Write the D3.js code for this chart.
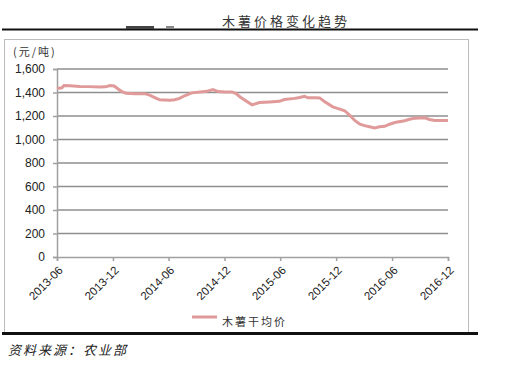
<!DOCTYPE html>
<html><head><meta charset="utf-8">
<script src="https://cdn.jsdelivr.net/npm/d3@7"></script>
<style>body{margin:0;background:#fff}svg{display:block}</style>
</head><body>
<script>
const title = "木薯价格变化趋势";
const unitLabel = "(元/吨)";
const seriesName = "木薯干均价";
const sourceText = "资料来源：农业部";
const xTickLabels = ["2013-06","2013-12","2014-06","2014-12","2015-06","2015-12","2016-06","2016-12"];
const yTicks = [0,200,400,600,800,1000,1200,1400,1600];
const dates = ["2013-06-01","2013-06-17","2013-06-24","2013-07-13","2013-08-15","2013-09-11","2013-10-20","2013-11-06","2013-11-22","2013-12-05","2013-12-18","2013-12-30","2014-01-13","2014-02-12","2014-03-15","2014-03-31","2014-04-17","2014-05-03","2014-06-05","2014-06-21","2014-07-07","2014-07-23","2014-08-16","2014-09-12","2014-10-04","2014-10-24","2014-11-10","2014-12-02","2014-12-25","2015-01-08","2015-01-21","2015-02-06","2015-03-01","2015-03-25","2015-04-27","2015-05-29","2015-06-15","2015-07-18","2015-08-04","2015-08-20","2015-08-30","2015-09-22","2015-10-08","2015-10-25","2015-11-20","2015-12-13","2015-12-29","2016-01-15","2016-02-01","2016-02-17","2016-03-03","2016-03-19","2016-04-05","2016-04-21","2016-05-08","2016-05-24","2016-06-10","2016-07-12","2016-07-28","2016-08-14","2016-08-31","2016-09-16","2016-10-02","2016-10-19","2016-12-01"];
const prices = [1435,1440,1460,1458,1452,1450,1446,1448,1460,1455,1430,1408,1393,1390,1390,1378,1357,1338,1335,1338,1350,1372,1397,1405,1410,1425,1408,1405,1405,1390,1362,1334,1295,1315,1320,1325,1340,1350,1358,1368,1355,1355,1354,1322,1278,1258,1245,1205,1160,1130,1118,1108,1098,1108,1112,1130,1145,1160,1172,1180,1183,1185,1170,1162,1162];

const W=520,H=365;
const svg=d3.select("body").append("svg").attr("width",W).attr("height",H);
const cjk='"Noto Sans CJK SC","Noto Sans",sans-serif';
const latin='"Liberation Sans",Arial,sans-serif';

// frame
svg.append("rect").attr("x",4.5).attr("y",39.5).attr("width",464).attr("height",294).attr("fill","none").attr("stroke","#bdbdbd").attr("stroke-width",1);
svg.append("line").attr("x1",2).attr("x2",478).attr("y1",29.5).attr("y2",29.5).attr("stroke","#111").attr("stroke-width",2);
svg.append("line").attr("x1",2).attr("x2",478).attr("y1",333.5).attr("y2",333.5).attr("stroke","#111").attr("stroke-width",3);
// small artifacts near title line
svg.append("rect").attr("x",126).attr("y",26).attr("width",28).attr("height",3).attr("fill","#444");
svg.append("rect").attr("x",166).attr("y",26).attr("width",8).attr("height",2).attr("fill","#888");

svg.append("text").attr("x",286).attr("y",26).attr("text-anchor","middle").attr("font-family",cjk).attr("font-size",13).attr("letter-spacing",3).attr("font-weight",400).attr("fill","#333").text(title);
svg.append("text").attr("x",13).attr("y",56).attr("font-family",cjk).attr("font-size",11).attr("letter-spacing",2).attr("fill","#333").text(unitLabel);

const parse=d3.timeParse("%Y-%m-%d");
const data=dates.map((d,i)=>({d:parse(d),v:prices[i]}));
const x=d3.scaleTime().domain([parse("2013-06-01"),parse("2016-12-01")]).range([57,448]);
const y=d3.scaleLinear().domain([0,1600]).range([257,69]);
const tickDates=xTickLabels.map(s=>parse(s+"-01"));

// grid
svg.append("g").selectAll("line").data(yTicks.filter(t=>t>0)).join("line")
 .attr("x1",57).attr("x2",448).attr("y1",d=>y(d)).attr("y2",d=>y(d)).attr("stroke","#8f8f8f").attr("stroke-width",1.6);

// y axis
const ya=svg.append("g").attr("transform","translate(57,0)").call(d3.axisLeft(y).tickValues(yTicks).tickSize(4).tickPadding(8).tickFormat(d3.format(",")));
ya.select(".domain").attr("stroke","#a0a0a0").attr("stroke-width",1.5);
ya.selectAll(".tick line").attr("stroke","#a0a0a0").attr("stroke-width",1.5);
ya.selectAll("text").attr("font-family",latin).attr("font-size",12).attr("fill","#222");

// x axis
const xa=svg.append("g").attr("transform","translate(0,257)").call(d3.axisBottom(x).tickValues(tickDates).tickSize(4).tickFormat((d,i)=>xTickLabels[i]));
xa.select(".domain").attr("stroke","#a0a0a0").attr("stroke-width",1.5);
xa.selectAll(".tick line").attr("stroke","#a0a0a0").attr("stroke-width",1.5);
xa.selectAll("text").attr("font-family",latin).attr("font-size",11.5).attr("fill","#222")
 .attr("text-anchor","end").attr("dy",0).attr("y",0).attr("transform","translate(6,14) rotate(-45)");

// line
svg.append("path").datum(data).attr("fill","none").attr("stroke","#e09a9a").attr("stroke-width",3)
 .attr("d",d3.line().x(d=>x(d.d)).y(d=>y(d.v)));

// legend
svg.append("line").attr("x1",192).attr("x2",217).attr("y1",317).attr("y2",317).attr("stroke","#e09a9a").attr("stroke-width",3);
svg.append("text").attr("x",222).attr("y",326).attr("font-family",cjk).attr("font-size",11).attr("letter-spacing",2).attr("fill","#333").text(seriesName);

// source
svg.append("text").attr("x",8).attr("y",355).attr("font-family",cjk).attr("font-size",13).attr("font-style","italic").attr("letter-spacing",2).attr("fill","#222").text(sourceText);
</script>
</body></html>
